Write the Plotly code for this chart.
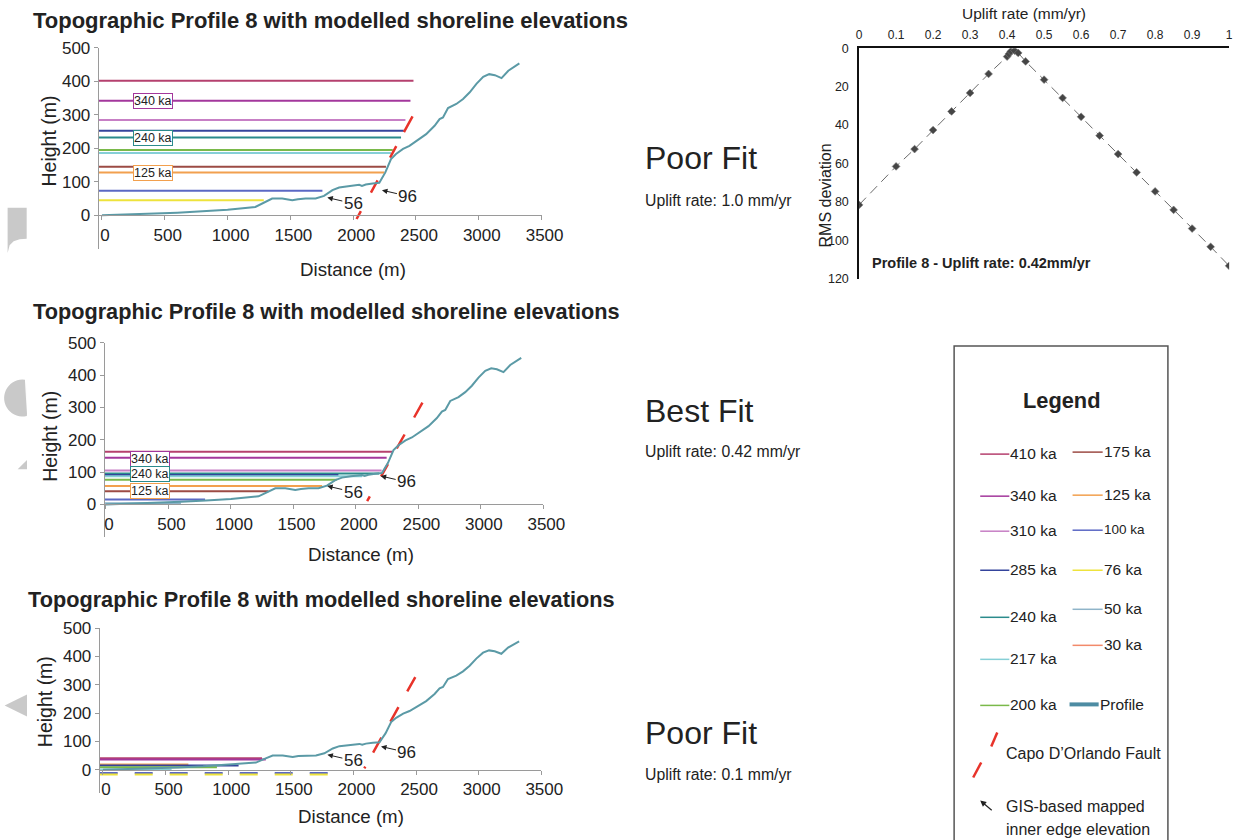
import math
import plotly.graph_objects as go

# Figure canvas; layout positions below are given in window pixels and
# converted with a fixed offset/scale so they land where intended on screen.
W, H = 1258, 848
OX, SX = 5.4, 0.9765
OY, SY = 8.4, 0.980


def px(x):
    return ((x - OX) / SX) / W


def py(y):
    return 1 - ((y - OY) / SY) / H


FONT = "Liberation Sans, Arial, sans-serif"
INK = "#222222"

# ---------------------------------------------------------------- data
age_colors = {
    "410 ka": "#b5406e", "340 ka": "#a3379c", "310 ka": "#c77fc5",
    "285 ka": "#34449c", "240 ka": "#2b8b8c", "217 ka": "#86cfd6",
    "200 ka": "#7ab94a", "175 ka": "#9c4b44", "125 ka": "#f2a04e",
    "100 ka": "#5b68c4", "76 ka": "#eee33c", "50 ka": "#8fb4c9",
    "30 ka": "#f28a6a",
}

# topographic profile 8 (distance m, height m)
profile_x = [0, 200, 400, 600, 800, 1000, 1221, 1290, 1355, 1435, 1515, 1560,
             1621, 1701, 1768, 1835, 1888, 1960, 2048, 2070, 2100, 2155, 2208,
             2256, 2301, 2341, 2397, 2448, 2501, 2581, 2648, 2688, 2715, 2755,
             2821, 2875, 2928, 2981, 3035, 3083, 3128, 3181, 3235, 3275, 3323]
profile_y = [0, 2, 5, 8, 12, 17, 25, 38, 50, 50, 45, 48, 50, 50, 58, 75, 83,
             87, 91, 88, 92, 95, 97, 128, 168, 183, 198, 207, 222, 242, 267,
             287, 292, 320, 332, 347, 367, 392, 413, 421, 418, 409, 431, 441,
             453]

# modelled shorelines, uplift 1.0 mm/yr
p1_ages = ["410 ka", "340 ka", "310 ka", "285 ka", "240 ka", "217 ka",
           "200 ka", "175 ka", "125 ka", "100 ka", "76 ka"]
p1_elev = [401, 342, 284, 252, 232, 186, 195, 145, 128, 73, 45]
p1_end = [2480, 2456, 2416, 2403, 2381, 2301, 2315, 2261, 2248, 1755, 1288]
p1_dash = [False] * 11

# modelled shorelines, uplift 0.42 mm/yr
p2_ages = ["410 ka", "340 ka", "310 ka", "240 ka", "285 ka", "217 ka",
           "200 ka", "125 ka", "175 ka", "100 ka", "50 ka"]
p2_elev = [163, 144, 105, 96, 91, 87, 76, 57, 41, 15, 4]
p2_end = [2292, 2246, 2206, 2185, 1860, 2050, 1847, 1730, 1301, 793, 600]
p2_dash = [False] * 11

# modelled shorelines, uplift 0.1 mm/yr
p3_ages = ["410 ka", "340 ka", "125 ka", "285 ka", "200 ka", "217 ka",
           "100 ka", "76 ka"]
p3_elev = [40, 36, 18, 15, 9, 1, -12, -17]
p3_end = [1270, 1300, 682, 1083, 910, 548, 1806, 1806]
p3_dash = [False, False, False, False, False, False, True, True]

# Capo D'Orlando fault trace per panel (distance, height)
fault1_x = [2027, 2475]
fault1_y = [-11, 297]
fault2_x = [2090, 2533]
fault2_y = [10, 315]
fault3_x = [2087, 2494]
fault3_y = [5, 327]

# GIS-mapped inner edges: (distance, height) of arrow tips, labels
edge_labels = ["56", "96"]
edge1_x, edge1_y = [1794, 2229], [53, 75]
edge2_x, edge2_y = [1770, 2198], [57, 88]
edge3_x, edge3_y = [1792, 2220], [53, 82]

# boxed age labels (distance, height)
box_labels = ["340 ka", "240 ka", "125 ka"]
box1_x, box1_y = [408, 408, 408], [342, 230, 125]
box2_x, box2_y = [351, 351, 351], [139, 93, 43]

# RMS misfit vs uplift rate
rms_rate = [0, 0.1, 0.15, 0.2, 0.25, 0.3, 0.35, 0.4, 0.405, 0.41, 0.42, 0.43,
            0.45, 0.5, 0.55, 0.6, 0.65, 0.7, 0.75, 0.8, 0.85, 0.9, 0.95, 1.0]
rms_dev = [81.5, 61.5, 52.5, 42.6, 32.9, 23.3, 13.4, 4.4, 3.0, 1.7, 1.3, 2.5,
           6.9, 16.4, 25.9, 35.7, 45.5, 55.1, 64.6, 74.5, 84.1, 93.8, 103.3,
           113.2]
rate_ticks = [0, 0.1, 0.2, 0.3, 0.4, 0.5, 0.6, 0.7, 0.8, 0.9, 1.0]
rate_ticktext = ["0", "0.1", "0.2", "0.3", "0.4", "0.5", "0.6", "0.7", "0.8",
                 "0.9", "1"]
rms_ticks = [0, 20, 40, 60, 80, 100, 120]
dist_ticks = [0, 500, 1000, 1500, 2000, 2500, 3000, 3500]
height_ticks = [0, 100, 200, 300, 400, 500]

legend_left = ["410 ka", "340 ka", "310 ka", "285 ka", "240 ka", "217 ka",
               "200 ka"]
legend_right = ["175 ka", "125 ka", "100 ka", "76 ka", "50 ka", "30 ka",
                "Profile"]

# ---------------------------------------------------------------- layout
# panel geometry in pixels: x-domain, x-range, y-domain (top, bottom), y-range
panels = [
    dict(xd=(100.75, 542.0), xr=(-26, 3500), yd=(47.0, 248.0), yr=(-100, 500),
         ages=p1_ages, elev=p1_elev, end=p1_end, dash=p1_dash, start=-26,
         fx=fault1_x, fy=fault1_y, ex=edge1_x, ey=edge1_y,
         fdash="9px,21px,14px,26px,13px,16px,18px",
         bx=box1_x, by=box1_y, title_size=22),
    dict(xd=(106.75, 543.75), xr=(-10, 3500), yd=(341.7, 535.6), yr=(-100, 500),
         ages=p2_ages, elev=p2_elev, end=p2_end, dash=p2_dash, start=-10,
         fx=fault2_x, fy=fault2_y, ex=edge2_x, ey=edge2_y,
         fdash="5.5px,23px,14px,18px,16px,19.5px,17px",
         bx=box2_x, by=box2_y, title_size=21.7),
    dict(xd=(101.75, 541.7), xr=(-26, 3500), yd=(626.7, 791.7), yr=(-83, 500),
         ages=p3_ages, elev=p3_elev, end=p3_end, dash=p3_dash, start=-26,
         fx=fault3_x, fy=fault3_y, ex=edge3_x, ey=edge3_y,
         fdash="2px,16px,17px,18.5px,16.5px,18px,17px",
         bx=None, by=None, title_size=21.7),
]

fig = go.Figure()
annotations = []
shapes = []
layout_axes = {}

for i, p in enumerate(panels, start=1):
    xa = "x" if i == 1 else f"x{i}"
    ya = "y" if i == 1 else f"y{i}"
    # shorelines
    for age, h, e, d in zip(p["ages"], p["elev"], p["end"], p["dash"]):
        fig.add_trace(go.Scatter(
            x=[p["start"], e], y=[h, h], mode="lines", xaxis=xa, yaxis=ya,
            line=dict(color=age_colors[age], width=2,
                      dash="18px,17px" if d else "solid"),
            showlegend=False, hoverinfo="skip"))
    # fault
    fig.add_trace(go.Scatter(
        x=p["fx"], y=p["fy"], mode="lines", xaxis=xa, yaxis=ya,
        line=dict(color="#e8332a", width=2.5, dash=p["fdash"]),
        showlegend=False, hoverinfo="skip"))
    # profile
    fig.add_trace(go.Scatter(
        x=profile_x, y=profile_y, mode="lines", xaxis=xa, yaxis=ya,
        line=dict(color="#5b9aa6", width=2), showlegend=False,
        hoverinfo="skip"))

    top, bot = p["yd"]
    y0 = top + (p["yr"][1] - 0) / (p["yr"][1] - p["yr"][0]) * (bot - top)
    xkey = "xaxis" if i == 1 else f"xaxis{i}"
    ykey = "yaxis" if i == 1 else f"yaxis{i}"
    layout_axes[xkey] = dict(
        domain=[px(p["xd"][0]), px(p["xd"][1])], range=list(p["xr"]),
        anchor="free", position=py(y0), showline=True, linecolor="#9a9a9a",
        linewidth=1, ticks="outside", ticklen=4, tickcolor="#9a9a9a",
        tickvals=dist_ticks, ticklabelshift=3,
        tickfont=dict(family=FONT, size=17, color=INK), showgrid=False,
        zeroline=False)
    layout_axes[ykey] = dict(
        domain=[py(bot), py(top)], range=list(p["yr"]), anchor=xa,
        showline=True, linecolor="#9a9a9a", linewidth=1, ticks="outside",
        ticklen=4, tickcolor="#9a9a9a", tickvals=height_ticks,
        tickfont=dict(family=FONT, size=17, color=INK), showgrid=False,
        zeroline=False)

    # inner-edge arrows
    for lab, ex, ey in zip(edge_labels, p["ex"], p["ey"]):
        annotations.append(dict(
            x=ex, y=ey, xref=xa, yref=ya, text=lab, showarrow=True,
            ax=26, ay=6, arrowhead=2, arrowsize=1.1, arrowwidth=1,
            arrowcolor=INK, standoff=0,
            font=dict(family=FONT, size=17, color=INK)))
    # boxed labels
    if p["bx"] is not None:
        for lab, bx, by in zip(box_labels, p["bx"], p["by"]):
            annotations.append(dict(
                x=bx, y=by, xref=xa, yref=ya, text=lab, showarrow=False,
                bgcolor="white", bordercolor=age_colors[lab], borderwidth=1,
                borderpad=0, font=dict(family=FONT, size=12.5, color=INK)))

# RMS panel
fig.add_trace(go.Scatter(
    x=rms_rate, y=rms_dev, mode="lines+markers", xaxis="x4", yaxis="y4",
    line=dict(color="#6a6a6a", width=1, dash="10px,6px"),
    marker=dict(symbol="diamond", size=6, color="#454545",
                line=dict(color="#7a7a7a", width=0.6)),
    showlegend=False, hoverinfo="skip"))
layout_axes["xaxis4"] = dict(
    domain=[px(858.3), px(1227.0)], range=[0, 1], anchor="y4", side="top",
    showline=True, linecolor="#111111", linewidth=1.5, ticks="",
    tickvals=rate_ticks, ticktext=rate_ticktext, ticklabelstandoff=3,
    tickfont=dict(family=FONT, size=12, color=INK), showgrid=False,
    zeroline=False)
layout_axes["yaxis4"] = dict(
    domain=[py(278.0), py(47.5)], range=[120, 0], anchor="x4",
    showline=True, linecolor="#111111", linewidth=1.5, ticks="",
    tickvals=rms_ticks, ticklabelstandoff=6,
    tickfont=dict(family=FONT, size=12.5, color=INK), showgrid=False,
    zeroline=False)


def text(x, y, s, size, bold=False, anchor="left", angle=0, color=INK):
    annotations.append(dict(
        x=px(x), y=py(y), xref="paper", yref="paper", showarrow=False,
        text=f"<b>{s}</b>" if bold else s, xanchor=anchor, yanchor="middle",
        textangle=angle, font=dict(family=FONT, size=size, color=color)))


title = "Topographic Profile 8 with modelled shoreline elevations"
for (tx, ty), p in zip([(33, 20), (33, 311), (28, 598)], panels):
    text(tx, ty, title, p["title_size"], bold=True)

text(354, 269, "Distance (m)", 18.7, anchor="center")
text(362, 553, "Distance (m)", 18.7, anchor="center")
text(352, 815, "Distance (m)", 18.7, anchor="center")
text(51, 140, "Height (m)", 19.5, anchor="center", angle=-90)
text(52, 435, "Height (m)", 19.5, anchor="center", angle=-90)
text(48, 700, "Height (m)", 19.5, anchor="center", angle=-90)

text(643, 157, "Poor Fit", 32)
text(643, 200, "Uplift rate: 1.0 mm/yr", 15.8)
text(643, 410, "Best Fit", 32)
text(643, 450, "Uplift rate: 0.42 mm/yr", 15.8)
text(643, 732, "Poor Fit", 32)
text(643, 773, "Uplift rate: 0.1 mm/yr", 15.8)

text(1023, 13, "Uplift rate (mm/yr)", 15.5, anchor="center")
text(825, 195, "RMS deviation", 16, anchor="center", angle=-90)
text(869, 262, "Profile 8 - Uplift rate: 0.42mm/yr", 14.5, bold=True)

# legend box
shapes.append(dict(type="rect", xref="paper", yref="paper",
                   x0=px(953), x1=px(1166), y0=py(846), y1=py(345),
                   line=dict(color="#555555", width=1.5)))
text(1060, 399, "Legend", 21.8, bold=True, anchor="center")

left_y = [452, 494, 529, 568, 615, 657, 703]
right_y = [450, 493, 528, 568, 607, 643, 703]
for lab, yy in zip(legend_left, left_y):
    shapes.append(dict(type="line", xref="paper", yref="paper",
                       x0=px(979), x1=px(1008), y0=py(yy + 1), y1=py(yy + 1),
                       line=dict(color=age_colors[lab], width=1.5)))
    text(1007, yy, lab, 15.5)
for lab, yy in zip(legend_right, right_y):
    if lab == "Profile":
        shapes.append(dict(type="line", xref="paper", yref="paper",
                           x0=px(1068), x1=px(1097), y0=py(yy), y1=py(yy),
                           line=dict(color="#4d8ca3", width=4)))
        text(1096, yy, lab, 15.5)
    else:
        shapes.append(dict(type="line", xref="paper", yref="paper",
                           x0=px(1071), x1=px(1101), y0=py(yy + 1),
                           y1=py(yy + 1),
                           line=dict(color=age_colors[lab], width=1.5)))
        text(1100, yy, lab, 13.5 if lab == "100 ka" else 15.5)

# fault and arrow symbols in the legend
for (xa_, ya_, xb_, yb_) in [(990, 745, 996, 731), (972, 776, 980, 761)]:
    shapes.append(dict(type="line", xref="paper", yref="paper",
                       x0=px(xa_), y0=py(ya_), x1=px(xb_), y1=py(yb_),
                       line=dict(color="#e8332a", width=2.5)))
text(1003, 752, "Capo D\u2019Orlando Fault", 16)
annotations.append(dict(x=px(979), y=py(799), xref="paper", yref="paper",
                        text="", showarrow=True, ax=13, ay=11, arrowhead=2,
                        arrowsize=1, arrowwidth=1.2, arrowcolor=INK))
text(1003, 805, "GIS-based mapped", 16)
text(1003, 828, "inner edge elevation", 16)


# grey marks along the left margin
def path(points, close=True):
    s = "M " + " L ".join(f"{px(a):.5f},{py(b):.5f}" for a, b in points)
    return s + (" Z" if close else "")


grey = "#c9c9c9"
shapes.append(dict(type="path", xref="paper", yref="paper",
                   path=path([(10, 207), (29, 207), (29, 238), (22, 238.5),
                              (16, 240.5), (12, 244.5), (10, 252)]),
                   fillcolor=grey, line=dict(width=0)))
arc = [(25 + 18.5 * math.cos(math.radians(a)),
        397 + 18.5 * math.sin(math.radians(a))) for a in range(77, 284, 8)]
arc = [(29.3, 379)] + arc + [(29.3, 415)]
shapes.append(dict(type="path", xref="paper", yref="paper", path=path(arc),
                   fillcolor=grey, line=dict(width=0)))
shapes.append(dict(type="path", xref="paper", yref="paper",
                   path=path([(20, 468), (29.3, 459), (29.3, 468)]),
                   fillcolor=grey, line=dict(width=0)))
shapes.append(dict(type="path", xref="paper", yref="paper",
                   path=path([(7, 704), (29.3, 693), (29.3, 715)]),
                   fillcolor=grey, line=dict(width=0)))

fig.update_layout(
    width=W, height=H, margin=dict(l=0, r=0, t=0, b=0),
    paper_bgcolor="white", plot_bgcolor="rgba(0,0,0,0)",
    font=dict(family=FONT, color=INK), showlegend=False,
    annotations=annotations, shapes=shapes, **layout_axes)

fig.write_html("out.html")
